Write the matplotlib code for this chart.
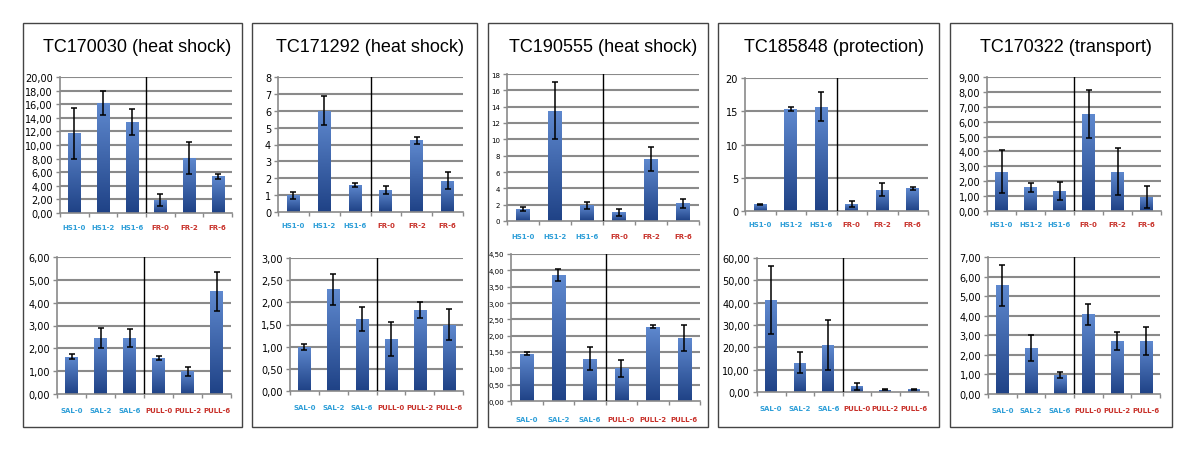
import numpy as np
import matplotlib
matplotlib.use('Agg')
import matplotlib.pyplot as plt
from matplotlib.patches import Rectangle


W, H = 1200, 452

titles = ['TC170030 (heat shock)', 'TC171292 (heat shock)', 'TC190555 (heat shock)',
          'TC185848 (protection)', 'TC170322 (transport)']

top_labels = ['HS1-0', 'HS1-2', 'HS1-6', 'FR-0', 'FR-2', 'FR-6']
bottom_labels = ['SAL-0', 'SAL-2', 'SAL-6', 'PULL-0', 'PULL-2', 'PULL-6']

# top row (heat shock / freezing)
tc170030_top = [11.7, 16.2, 13.4, 1.9, 8.1, 5.4]
tc170030_top_err = [3.7, 1.8, 1.9, 0.85, 2.3, 0.4]
tc171292_top = [1.0, 6.0, 1.6, 1.3, 4.25, 1.85]
tc171292_top_err = [0.2, 0.85, 0.12, 0.25, 0.2, 0.5]
tc190555_top = [1.5, 13.5, 1.9, 1.05, 7.6, 2.15]
tc190555_top_err = [0.25, 3.5, 0.4, 0.45, 1.5, 0.5]
tc185848_top = [1.0, 15.4, 15.7, 1.05, 3.2, 3.4]
tc185848_top_err = [0.05, 0.3, 2.2, 0.5, 1.0, 0.2]
tc170322_top = [2.65, 1.6, 1.35, 6.5, 2.65, 0.95]
tc170322_top_err = [1.45, 0.3, 0.6, 1.6, 1.55, 0.75]

# bottom row (salt / pulling)
tc170030_bot = [1.63, 2.45, 2.45, 1.58, 1.0, 4.5]
tc170030_bot_err = [0.1, 0.42, 0.4, 0.1, 0.2, 0.85]
tc171292_bot = [1.0, 2.3, 1.63, 1.18, 1.82, 1.5]
tc171292_bot_err = [0.07, 0.35, 0.27, 0.38, 0.18, 0.35]
tc190555_bot = [1.45, 3.85, 1.3, 1.0, 2.28, 1.92]
tc190555_bot_err = [0.04, 0.18, 0.35, 0.25, 0.06, 0.4]
tc185848_bot = [41.2, 13.2, 21.0, 2.5, 1.0, 1.2]
tc185848_bot_err = [15.2, 4.8, 11.2, 1.5, 0.3, 0.3]
tc170322_bot = [5.55, 2.35, 0.97, 4.08, 2.7, 2.7]
tc170322_bot_err = [1.05, 0.65, 0.13, 0.53, 0.47, 0.72]

top_vals = [tc170030_top, tc171292_top, tc190555_top, tc185848_top, tc170322_top]
top_errs = [tc170030_top_err, tc171292_top_err, tc190555_top_err, tc185848_top_err, tc170322_top_err]
bot_vals = [tc170030_bot, tc171292_bot, tc190555_bot, tc185848_bot, tc170322_bot]
bot_errs = [tc170030_bot_err, tc171292_bot_err, tc190555_bot_err, tc185848_bot_err, tc170322_bot_err]

# y axis: (max, step, decimals)
top_axes = [(20, 2, 2), (8, 1, 0), (18, 2, 0), (20, 5, 0), (9, 1, 2)]
bot_axes = [(6, 1, 2), (3, 0.5, 2), (4.5, 0.5, 2), (60, 10, 2), (7, 1, 2)]

# pixel geometry: panel boxes and axes (left, right, top, zero)
boxes = [(23, 242), (252, 477), (488, 708), (718, 939), (950, 1172)]
top_geo = [(60, 232, 78, 214), (278, 463, 78, 213), (507, 699, 75, 222),
           (745, 928, 79, 212), (987, 1161, 78, 212)]
bot_geo = [(57, 231, 258, 395), (290, 463, 259, 392), (511, 700, 255, 402),
           (757, 928, 259, 393), (988, 1160, 258, 395)]
small_ticks = [False, False, True, False, False]

blue_lbl = '#2f9fd8'
red_lbl = '#c8312a'
grid_col = '#8a8a8a'

grad = np.linspace(0, 1, 100).reshape(-1, 1)
cmap = matplotlib.colors.LinearSegmentedColormap.from_list('bar', ['#1f4286', '#5f89cf'])


def fmt(v, dec):
    if dec == 0:
        return '%d' % v
    return (('%.' + str(dec) + 'f') % v).replace('.', ',')


def draw(fig, geo, vals, errs, yax, labels, small, pad):
    l, r, t, z = geo
    ax = fig.add_axes([l / W, 1 - z / H, (r - l) / W, (z - t) / H])
    ymax, step, dec = yax
    x = np.arange(len(vals))
    bars = ax.bar(x, vals, width=0.42, color='#3b66b0', zorder=2)
    for b in bars:
        x0, y0 = b.get_x(), b.get_y()
        im = ax.imshow(grad, extent=[x0, x0 + b.get_width(), y0, y0 + b.get_height()],
                       origin='lower', aspect='auto', cmap=cmap, zorder=2.5)
        im.set_clip_path(b)
    ax.errorbar(x, vals, yerr=errs, fmt='none', ecolor='black', elinewidth=1.1,
                capsize=2.5, capthick=1.1, zorder=4)
    ax.set_xlim(-0.5, 5.5)
    ax.set_ylim(0, ymax)
    yt = np.arange(0, ymax + step / 2, step)
    ax.set_yticks(yt)
    ax.set_yticklabels([fmt(v, dec) for v in yt], fontsize=5 if small else 7,
                       family='DejaVu Sans')
    for v in yt[1:]:
        ax.axhline(v, color=grid_col, lw=1.5, zorder=1)
    ax.axvline(2.5, color='black', lw=1, zorder=3)
    ax.set_xticks(np.arange(-0.5, 6, 1))
    ax.set_xticklabels([])
    ax.tick_params(axis='x', length=3, color=grid_col, width=1)
    ax.tick_params(axis='y', length=3, color=grid_col, width=1, pad=2)
    for i, lab in enumerate(labels):
        ax.text(i, -pad, lab, transform=ax.get_xaxis_transform(), ha='center', va='center',
                fontsize=5, fontweight='bold', family='DejaVu Sans',
                color=blue_lbl if i < 3 else red_lbl)
    for s in ['top', 'right']:
        ax.spines[s].set_visible(False)
    for s in ['left', 'bottom']:
        ax.spines[s].set_color(grid_col)
        ax.spines[s].set_linewidth(1.2)
    return ax


fig = plt.figure(figsize=(W / 100, H / 100), dpi=100)

for k in range(5):
    bl, br = boxes[k]
    fig.patches.append(Rectangle((bl / W, 1 - 428 / H), (br - bl) / W, (428 - 24) / H,
                                 transform=fig.transFigure, fill=False,
                                 edgecolor='#444444', lw=1))
    fig.text((bl + br) / 2 / W + 5 / W, 1 - 47 / H, titles[k], ha='center', va='center',
             fontsize=13, family='Liberation Sans')
    draw(fig, top_geo[k], top_vals[k], top_errs[k], top_axes[k], top_labels,
         small_ticks[k], 0.1)
    draw(fig, bot_geo[k], bot_vals[k], bot_errs[k], bot_axes[k], bottom_labels,
         small_ticks[k], 0.12)

fig.savefig('out.png', dpi=100)
